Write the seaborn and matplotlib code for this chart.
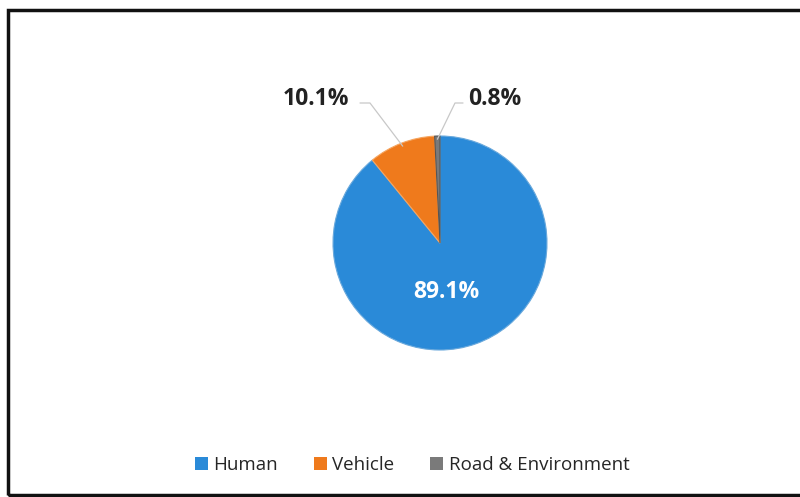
import numpy as np
import matplotlib.pyplot as plt
import matplotlib.patches as mpatches
import seaborn as sns

# data
categories = ["Human", "Vehicle", "Road & Environment"]
shares = [89.1, 10.1, 0.8]
colors = ["#2a8ad8", "#ef7a1c", "#7a7a7a"]

sns.set_theme(style="white")
plt.rcParams['font.family'] = ['Open Sans', 'DejaVu Sans']

fig = plt.figure(figsize=(8, 4.97), dpi=100)
ax = fig.add_axes([0, 0, 1, 1])

cx, cy, r = 440, 254, 107
wedges, _ = ax.pie(shares, colors=colors, startangle=90, counterclock=False,
                   center=(cx, cy), radius=r, frame=True,
                   wedgeprops=dict(edgecolor="#6aa9dc", linewidth=0.8))
wedges[1].set_edgecolor("#f5a560")
wedges[2].set_edgecolor("#555555")
ax.set_xlim(0, 800)
ax.set_ylim(0, 497)
ax.set_aspect("equal")
ax.axis("off")

# labels
def mid_point(w, frac=1.0):
    a = np.deg2rad((w.theta1 + w.theta2) / 2)
    return cx + r * frac * np.cos(a), cy + r * frac * np.sin(a)

ax.text(446, 205, f"{shares[0]}%", color="white", fontsize=16.5, fontweight="bold",
        ha="center", va="center")

label_pos = {1: (316, 398), 2: (495, 398)}
for i, (tx, ty) in label_pos.items():
    ax.text(tx, ty, f"{shares[i]}%", color="#222222", fontsize=16.5, fontweight="bold",
            ha="center", va="center")
    ex, ey = mid_point(wedges[i], 0.97)
    if i == 1:
        ax.plot([360, 370, ex], [ty - 4, ty - 4, ey], color="#c8c8c8", lw=0.9)
    else:
        ax.plot([463, 455, ex], [ty - 4, ty - 4, ey], color="#c8c8c8", lw=0.9)

handles = [mpatches.Patch(facecolor=c, edgecolor="none") for c in colors]
fig.legend(handles, categories, loc="center", bbox_to_anchor=(0.515, 0.065), ncol=3,
           frameon=False, fontsize=13.5, handlelength=0.7, handleheight=0.7,
           handletextpad=0.3, columnspacing=1.9)

# frame
fig.patches.append(mpatches.Rectangle((8 / 800, 2 / 497), 800 / 800, 485 / 497,
                                      transform=fig.transFigure, fill=False,
                                      edgecolor="#111111", linewidth=2.5))

fig.savefig("out.png", dpi=100)
